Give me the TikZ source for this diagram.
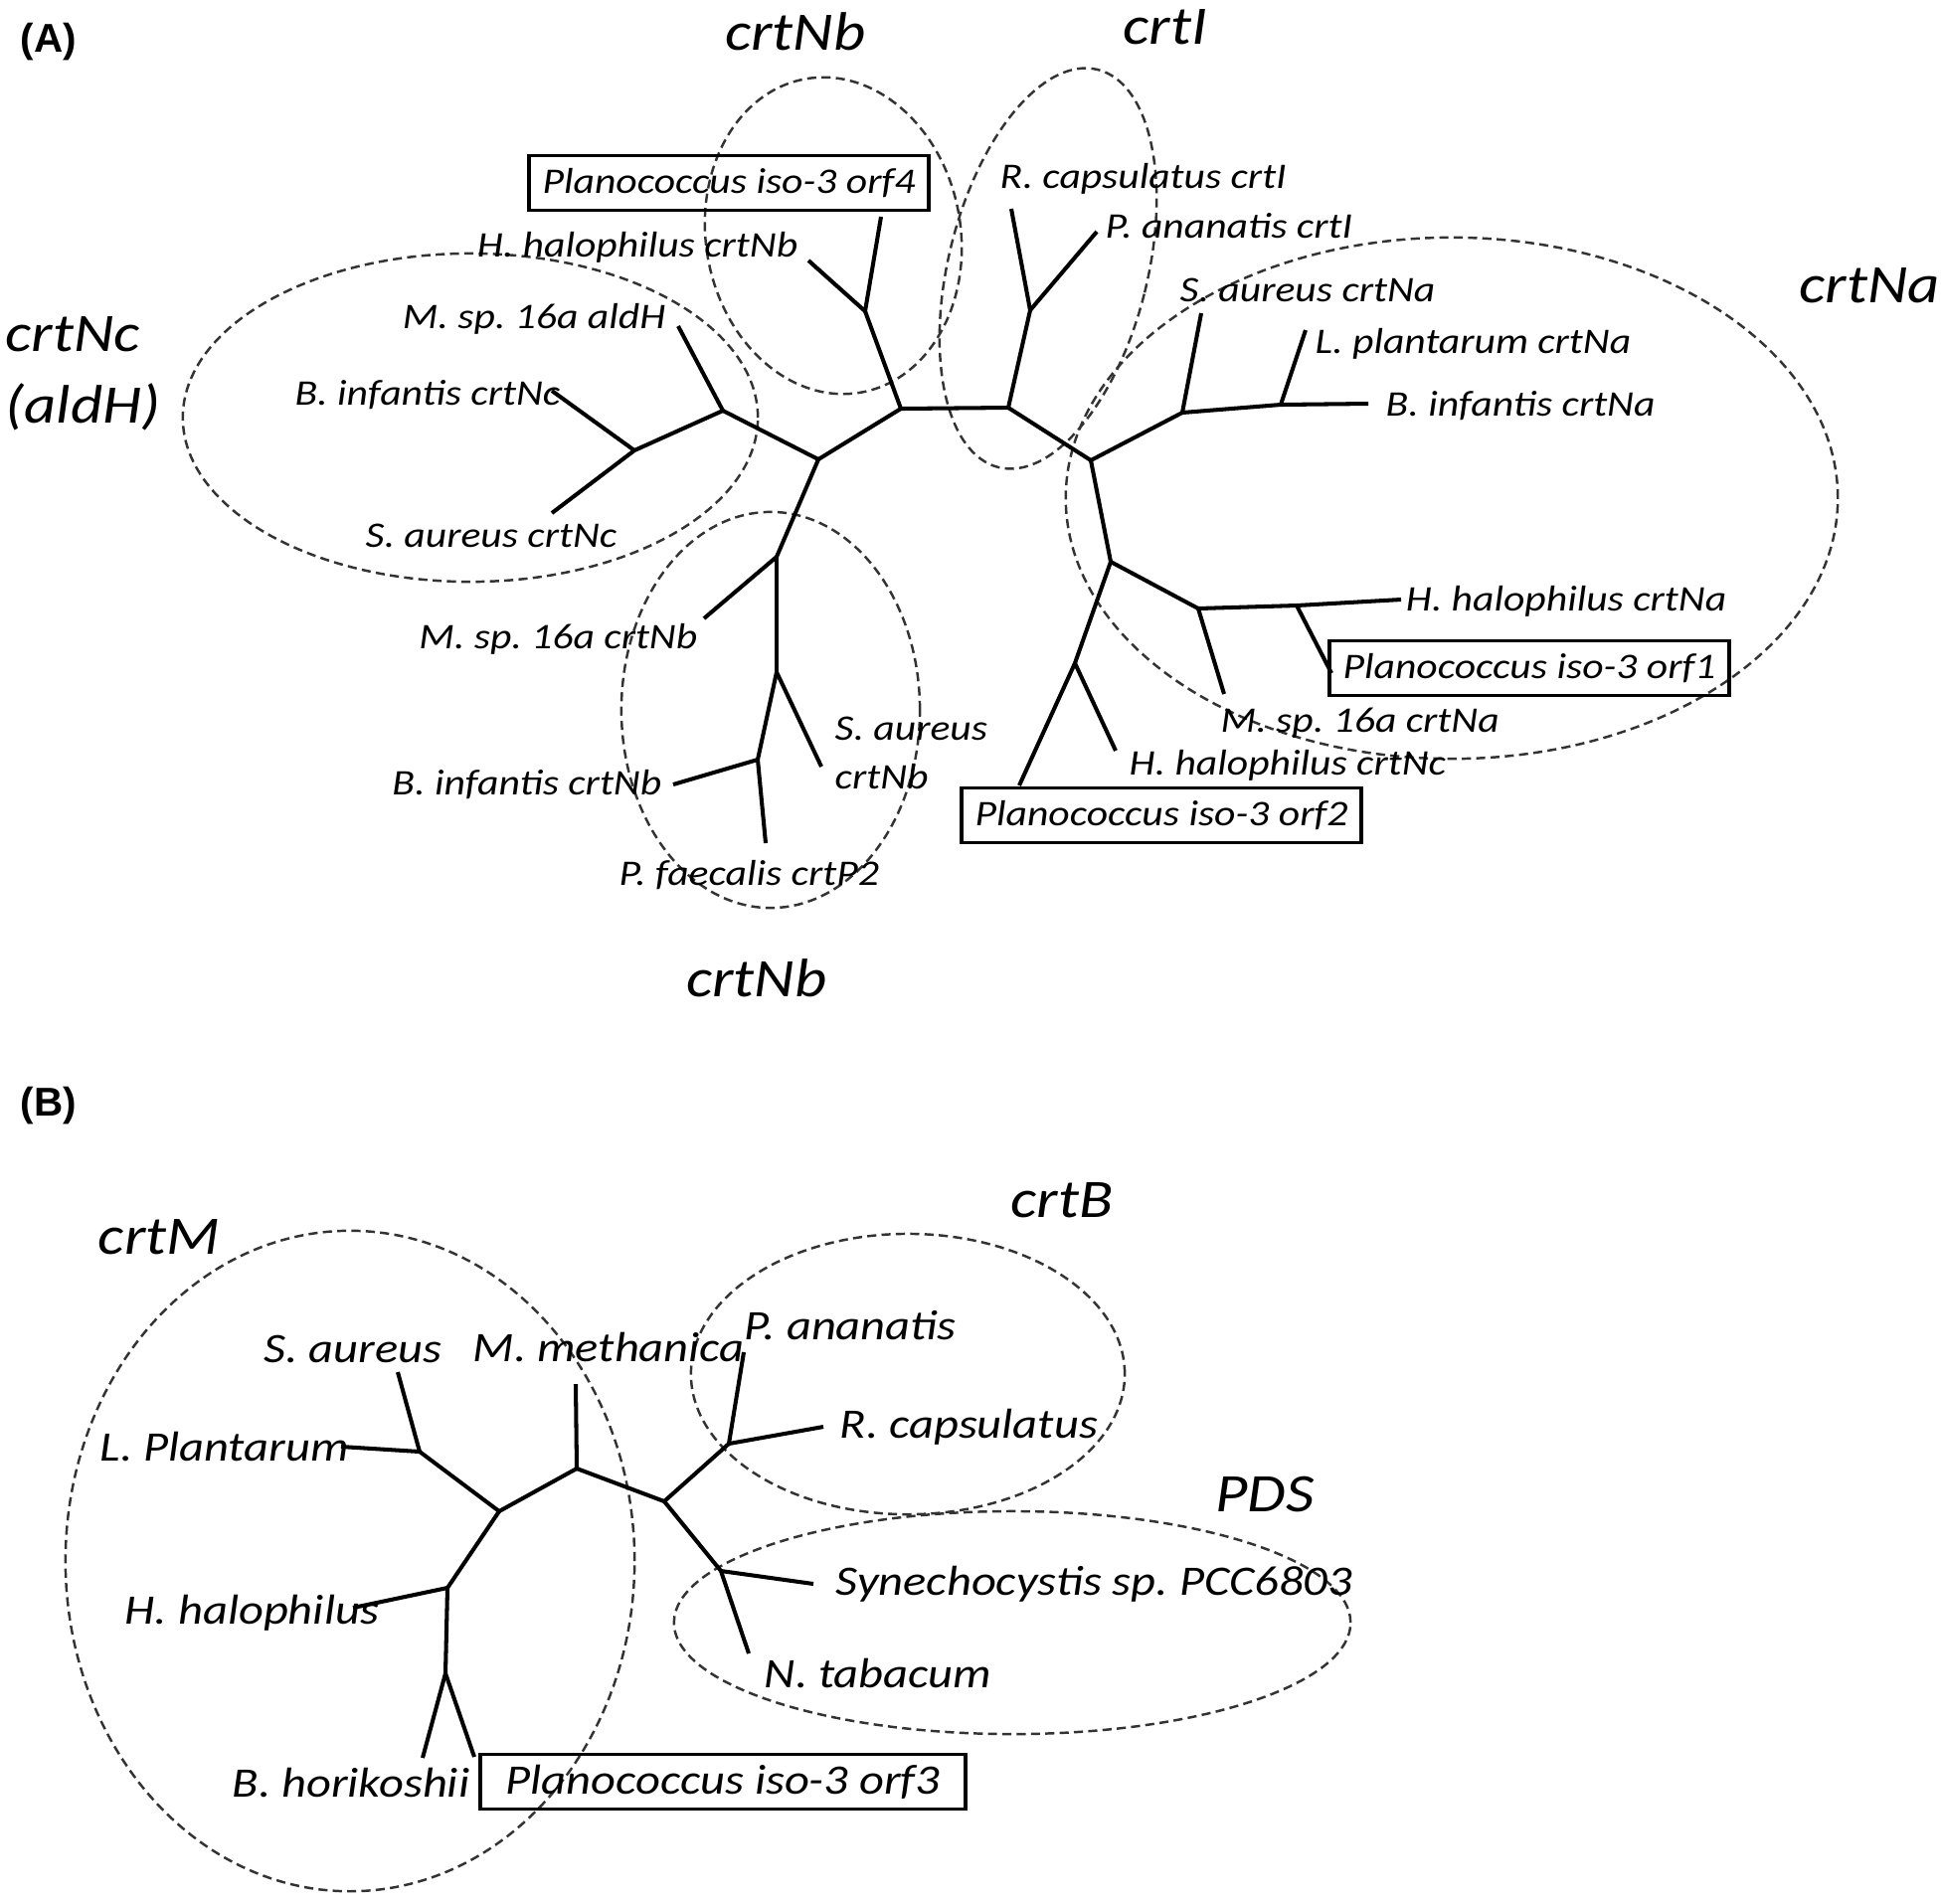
\documentclass[tikz,border=0pt]{standalone}
\usepackage{fontspec}
\setmainfont{Carlito}[FakeStretch=1.15]
\newfontfamily\panelfont{Liberation Sans}
\frenchspacing

\begin{document}
\begin{tikzpicture}[x=0.01cm, y=-0.01cm]
\tikzstyle{every node} = [inner sep=0pt, font=\fontsize{10.3}{14}\selectfont\itshape]
\tikzstyle{branch} = [line width=1.15pt]
\tikzstyle{group} = [draw=black!80, line width=0.7pt, dash pattern=on 2.6pt off 1.5pt]
\tikzstyle{orf} = [draw, line width=0.95pt, minimum height=0.55cm, minimum width=4.02cm]
\tikzstyle{clade} = [font=\fontsize{15.5}{20.5}\selectfont\itshape]
\tikzstyle{taxb} = [font=\fontsize{12}{14}\selectfont\itshape]
\tikzstyle{panel} = [font=\panelfont\bfseries\fontsize{11.5}{14}\selectfont]
\useasboundingbox (0,0) rectangle (1952,1914);

% (A) groups
\draw [group, rotate around={10:(838,237)}] (838,237) ellipse [x radius=1.28cm, y radius=1.6cm];
\draw [group, rotate around={-14:(1054,270)}] (1054,270) ellipse [x radius=1.0cm, y radius=2.06cm];
\draw [group] (473,420) ellipse [x radius=2.89cm, y radius=1.65cm];
\draw [group] (1460,501) ellipse [x radius=3.88cm, y radius=2.62cm];
\draw [group] (775,714) ellipse [x radius=1.5cm, y radius=1.99cm];

% (B) groups
\draw [group] (352,1570) ellipse [x radius=2.86cm, y radius=3.32cm];
\draw [group] (913,1382) ellipse [x radius=2.18cm, y radius=1.41cm];
\draw [group] (1018,1632) ellipse [x radius=3.4cm, y radius=1.12cm];

% (A) tree
\coordinate (n1) at (823,462);
\coordinate (n2) at (906,411);
\coordinate (n3) at (1014,410);
\coordinate (n4) at (1097,463);
\coordinate (n5) at (727,413);
\coordinate (n6) at (638,453);
\coordinate (n7) at (870,313);
\coordinate (n8) at (1036,312);
\coordinate (n9) at (781,560);
\coordinate (n10) at (781,676);
\coordinate (n11) at (762,764);
\coordinate (n12) at (1117,565);
\coordinate (n13) at (1205,612);
\coordinate (n14) at (1081,667);
\coordinate (n15) at (1304,609);
\coordinate (n16) at (1189,415);
\coordinate (n17) at (1288,407);

\coordinate (t1) at (682,328);
\coordinate (t2) at (555,393);
\coordinate (t3) at (555,516);
\coordinate (t4) at (886,218);
\coordinate (t5) at (813,262);
\coordinate (t6) at (1017,210);
\coordinate (t7) at (1103,233);
\coordinate (t8) at (1208,315);
\coordinate (t9) at (1313,332);
\coordinate (t10) at (1376,406);
\coordinate (t11) at (1409,603);
\coordinate (t12) at (1339,677);
\coordinate (t13) at (1231,698);
\coordinate (t14) at (1025,790);
\coordinate (t15) at (1122,755);
\coordinate (t16) at (708,622);
\coordinate (t17) at (826,771);
\coordinate (t18) at (677,789);
\coordinate (t19) at (770,848);

\draw [branch] (n1) -- (n5);
\draw [branch] (n5) -- (t1);
\draw [branch] (n5) -- (n6);
\draw [branch] (n6) -- (t2);
\draw [branch] (n6) -- (t3);
\draw [branch] (n1) -- (n2);
\draw [branch] (n2) -- (n7);
\draw [branch] (n7) -- (t4);
\draw [branch] (n7) -- (t5);
\draw [branch] (n2) -- (n3);
\draw [branch] (n3) -- (n8);
\draw [branch] (n8) -- (t6);
\draw [branch] (n8) -- (t7);
\draw [branch] (n3) -- (n4);
\draw [branch] (n4) -- (n16);
\draw [branch] (n16) -- (t8);
\draw [branch] (n16) -- (n17);
\draw [branch] (n17) -- (t9);
\draw [branch] (n17) -- (t10);
\draw [branch] (n4) -- (n12);
\draw [branch] (n12) -- (n13);
\draw [branch] (n13) -- (n15);
\draw [branch] (n15) -- (t11);
\draw [branch] (n15) -- (t12);
\draw [branch] (n13) -- (t13);
\draw [branch] (n12) -- (n14);
\draw [branch] (n14) -- (t14);
\draw [branch] (n14) -- (t15);
\draw [branch] (n1) -- (n9);
\draw [branch] (n9) -- (t16);
\draw [branch] (n9) -- (n10);
\draw [branch] (n10) -- (t17);
\draw [branch] (n10) -- (n11);
\draw [branch] (n11) -- (t18);
\draw [branch] (n11) -- (t19);

% (A) labels
\node [panel] (pa) at (49,42) {(A)};
\node [clade] (cnbt) at (800,32) {crtNb};
\node [clade] (ci) at (1172,27) {crtI};
\node [clade] (cna) at (1880,287) {crtNa};
\node [clade, anchor=west, align=left] (cnc) at (5,376) {crtNc\\(aldH)};
\node [clade] (cnbb) at (761,984) {crtNb};

\node [orf] (o4) at (733,184) {Planococcus iso-3 orf4};
\node [orf] (o1) at (1538,672) {Planococcus iso-3 orf1};
\node [orf] (o2) at (1168,820) {Planococcus iso-3 orf2};

\node [anchor=east] (hnb) at (803,249) {H. halophilus crtNb};
\node [anchor=east] (mal) at (670,321) {M. sp. 16a aldH};
\node [anchor=east] (bnc) at (564,397) {B. infantis crtNc};
\node [anchor=west] (snc) at (367,539) {S. aureus crtNc};
\node [anchor=east] (mnb) at (702,643) {M. sp. 16a crtNb};
\node [anchor=east] (bnb) at (666,789) {B. infantis crtNb};
\node [anchor=west, align=left] (snb) at (839,757) {S. aureus\\crtNb};
\node [anchor=west] (pfc) at (622,880) {P. faecalis crtP2};
\node [anchor=west] (rci) at (1005,180) {R. capsulatus crtI};
\node [anchor=west] (pai) at (1111,227) {P. ananatis crtI};
\node [anchor=west] (sna) at (1186,292) {S. aureus crtNa};
\node [anchor=west] (lna) at (1322,346) {L. plantarum crtNa};
\node [anchor=west] (bna) at (1393,408) {B. infantis crtNa};
\node [anchor=east] (hna) at (1737,605) {H. halophilus crtNa};
\node [anchor=west] (mna) at (1227,727) {M. sp. 16a crtNa};
\node [anchor=west] (hnc) at (1135,770) {H. halophilus crtNc};

% (B) tree
\coordinate (m1) at (502,1520);
\coordinate (m2) at (580,1477);
\coordinate (m3) at (668,1510);
\coordinate (m4) at (422,1460);
\coordinate (m5) at (733,1452);
\coordinate (m6) at (725,1580);
\coordinate (m7) at (450,1597);
\coordinate (m8) at (448,1683);

\coordinate (s1) at (400,1380);
\coordinate (s2) at (343,1455);
\coordinate (s3) at (579,1392);
\coordinate (s4) at (748,1360);
\coordinate (s5) at (828,1435);
\coordinate (s6) at (818,1593);
\coordinate (s7) at (753,1663);
\coordinate (s8) at (355,1617);
\coordinate (s9) at (425,1768);
\coordinate (s10) at (477,1767);

\draw [branch] (m1) -- (m4);
\draw [branch] (m4) -- (s1);
\draw [branch] (m4) -- (s2);
\draw [branch] (m1) -- (m2);
\draw [branch] (m2) -- (s3);
\draw [branch] (m2) -- (m3);
\draw [branch] (m3) -- (m5);
\draw [branch] (m5) -- (s4);
\draw [branch] (m5) -- (s5);
\draw [branch] (m3) -- (m6);
\draw [branch] (m6) -- (s6);
\draw [branch] (m6) -- (s7);
\draw [branch] (m1) -- (m7);
\draw [branch] (m7) -- (s8);
\draw [branch] (m7) -- (m8);
\draw [branch] (m8) -- (s9);
\draw [branch] (m8) -- (s10);

% (B) labels
\node [panel] (pb) at (49,1112) {(B)};
\node [clade] (cm) at (160,1244) {crtM};
\node [clade] (cb) at (1068,1207) {crtB};
\node [clade] (pds) at (1272,1503) {PDS};

\node [taxb, anchor=west] (bsa) at (265,1357) {S. aureus};
\node [taxb, anchor=west] (bmm) at (475,1355) {M. methanica};
\node [taxb, anchor=west] (bpa) at (748,1333) {P. ananatis};
\node [taxb, anchor=west] (blp) at (100,1455) {L. Plantarum};
\node [taxb, anchor=west] (brc) at (844,1435) {R. capsulatus};
\node [taxb, anchor=west] (bhh) at (125,1622) {H. halophilus};
\node [taxb, anchor=west] (bsy) at (840,1593) {Synechocystis sp. PCC6803};
\node [taxb, anchor=west] (bnt) at (768,1683) {N. tabacum};
\node [taxb, anchor=east] (bbh) at (473,1793) {B. horikoshii};
\node [orf, taxb, minimum width=4.88cm] (o3) at (727,1792) {Planococcus iso-3 orf3};

\end{tikzpicture}
\end{document}
